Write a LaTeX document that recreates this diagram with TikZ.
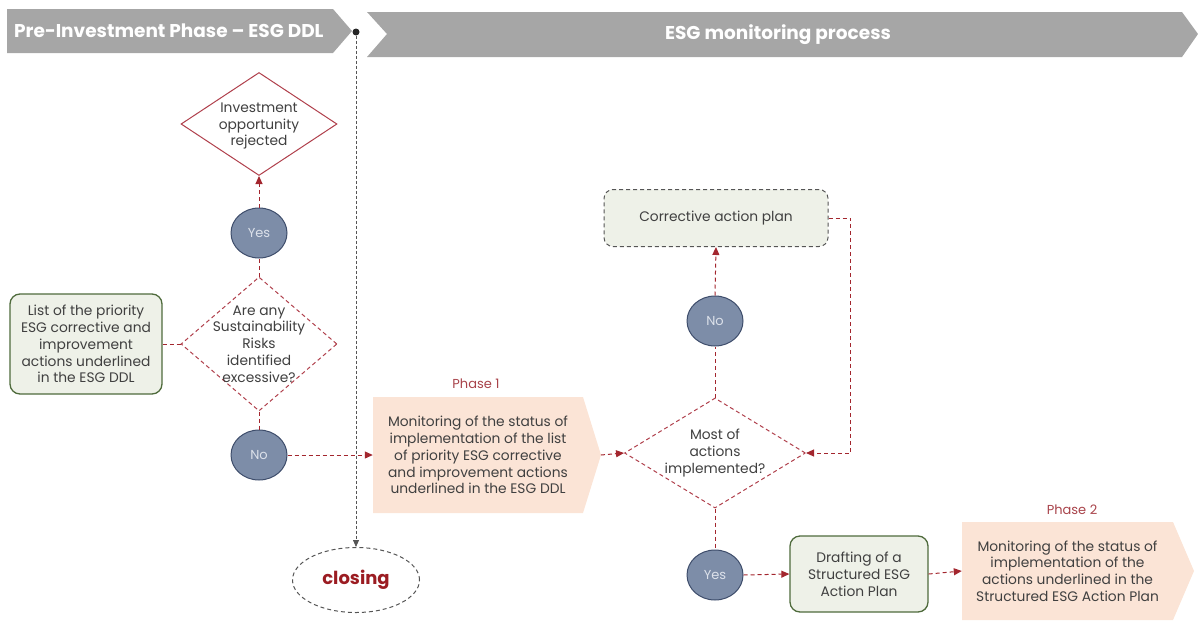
\documentclass[tikz,border=0pt]{standalone}
\usepackage{fontspec}
\setmainfont{Poppins}
\usetikzlibrary{shapes.geometric,arrows.meta}
\definecolor{hdrgray}{HTML}{A6A6A6}
\definecolor{bodytext}{HTML}{404040}
\definecolor{diared}{HTML}{B0404C}
\definecolor{arrred}{HTML}{A3262E}
\definecolor{circfill}{HTML}{7D8DA8}
\definecolor{circborder}{HTML}{3E4D6B}
\definecolor{circtext}{HTML}{DCE1EA}
\definecolor{greenfill}{HTML}{EEF1E8}
\definecolor{greenborder}{HTML}{4F6B3C}
\definecolor{peach}{HTML}{FBE4D6}
\definecolor{phasered}{HTML}{A8434A}
\definecolor{closered}{HTML}{9B1C22}
\definecolor{dashgray}{HTML}{555555}
\begin{document}
\begin{tikzpicture}[x=1pt,y=-1pt,
  txt/.style={font=\fontsize{13.8}{16.8}\selectfont, text=bodytext, align=center, inner sep=0},
  hdrtxt/.style={font=\fontsize{18.5}{20}\selectfont\bfseries, text=white, inner sep=0},
  circ/.style={ellipse, draw=circborder, fill=circfill, line width=1pt, minimum width=56, minimum height=50, inner sep=0, text=circtext, font=\fontsize{13}{15}\selectfont},
  dia/.style={diamond, draw=diared, fill=white, line width=1pt, inner sep=0},
  greenbox/.style={rectangle, rounded corners=10, draw=greenborder, line width=1.3pt, fill=greenfill, inner sep=0},
  conn/.style={draw=arrred, line width=1pt, dash pattern=on 4pt off 3pt},
  arr/.style={conn, -{Triangle[length=8pt,width=7pt]}},
  phaselbl/.style={font=\fontsize{13}{15}\selectfont, text=phasered, inner sep=0}
]
\useasboundingbox (0,0) rectangle (1198,621);

% headers
\fill[hdrgray] (7,9) -- (333,9) -- (352,31) -- (333,53) -- (7,53) -- cycle;
\fill[hdrgray] (367,12) -- (1182,12) -- (1198,34) -- (1182,57) -- (367,57) -- (387,34) -- cycle;
\node[hdrtxt, anchor=west] (h1) at (14,31) {Pre-Investment Phase – ESG DDL};
\node[hdrtxt] (h2) at (778,35) {ESG monitoring process};

% phase shapes
\fill[peach] (373,397) -- (583,397) -- (601,455) -- (583,513) -- (373,513) -- cycle;
\fill[peach] (962,522) -- (1173,522) -- (1194,571) -- (1173,620) -- (962,620) -- cycle;
\coordinate (p1tip) at (601,455);

% nodes
\node[circle, fill=black!85, minimum size=7, inner sep=0] (dot) at (356,32) {};
\node[dia, minimum width=156, minimum height=103] (rej) at (259,124) {};
\node[txt] (rejt) at (259,126) {Investment\\opportunity\\rejected};
\node[circ] (yes1) at (259,233) {Yes};
\node[dia, dash pattern=on 4pt off 3pt, minimum width=156, minimum height=134] (d1) at (259,344) {};
\node[txt] (d1t) at (259,344) {Are any\\Sustainability\\Risks\\identified\\excessive?};
\node[greenbox, minimum width=152, minimum height=100] (list) at (86,344) {};
\node[txt] (listt) at (86,344) {List of the priority\\ESG corrective and\\improvement\\actions underlined\\in the ESG DDL};
\node[circ] (no1) at (259,455) {No};

\node[phaselbl] (ph1) at (476,384) {Phase 1};
\node[txt, minimum width=210, minimum height=116] (p1) at (478,455) {Monitoring of the status of\\implementation of the list\\of priority ESG corrective\\and improvement actions\\underlined in the ESG DDL};

\node[dia, dash pattern=on 4pt off 3pt, minimum width=181, minimum height=110] (d2) at (715,453) {};
\node[txt] (d2t) at (715,453) {Most of\\actions\\implemented?};
\node[circ] (no2) at (715,321) {No};
\node[rectangle, rounded corners=9, draw=dashgray, dash pattern=on 4pt off 3pt, line width=1pt, fill=greenfill, minimum width=224, minimum height=57, txt] (cap) at (716,218) {Corrective action plan};
\node[circ] (yes2) at (715,575) {Yes};
\node[greenbox, minimum width=138, minimum height=76] (draft) at (859,574) {};
\node[txt] (draftt) at (859,574) {Drafting of a\\Structured ESG\\Action Plan};

\node[phaselbl] (ph2) at (1072,510) {Phase 2};
\node[txt, minimum width=211, minimum height=98] (p2) at (1067.5,571) {Monitoring of the status of\\implementation of the\\actions underlined in the\\Structured ESG Action Plan};

\node[ellipse, draw=dashgray, dash pattern=on 4pt off 3pt, line width=1pt, minimum width=127, minimum height=65, inner sep=0, text=closered, font=\fontsize{18}{20}\selectfont\bfseries] (close) at (356,580) {closing};

% connectors
\draw[draw=dashgray, line width=0.8pt, dash pattern=on 3pt off 2pt, -{Triangle[length=7pt,width=6pt]}] (dot) -- (close.north);
\draw[arr] (yes1.north) -- (rej.south);
\draw[conn] (d1.north) -- (yes1.south);
\draw[conn] (d1.south) -- (no1.north);
\draw[conn] (list.east) -- (d1.west);
\draw[arr] (no1.east) -- (p1.west);
\draw[arr] (p1tip) -- (d2.west);
\draw[conn] (d2.north) -- (no2.south);
\draw[arr] (no2.north) -- (cap.south);
\draw[arr] (cap.east) -- ++(22,0) |- (d2.east);
\draw[conn] (d2.south) -- (yes2.north);
\draw[arr] (yes2.east) -- (draft.west);
\draw[arr] (draft.east) -- (p2.west);
\end{tikzpicture}
\end{document}
